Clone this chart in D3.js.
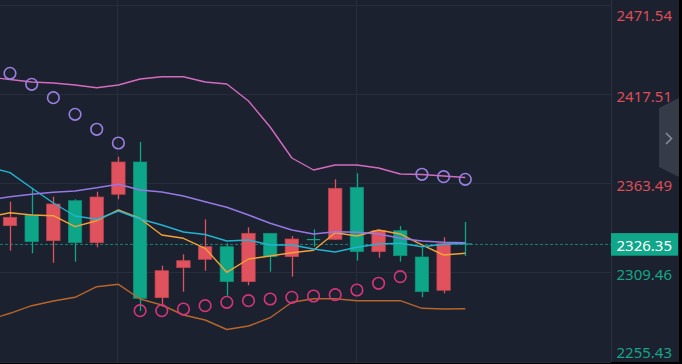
<!DOCTYPE html>
<html>
<head>
<meta charset="utf-8">
<script src="https://cdn.jsdelivr.net/npm/d3@7"></script>
<style>
  html, body { margin: 0; padding: 0; background: #000; }
  svg { display: block; }
</style>
</head>
<body>
<div id="chart"></div>
<script>
// candle data (22 bars, left to right)
var opens  = [2337.69, 2344.17, 2328.60, 2352.83, 2327.39, 2356.70, 2376.27, 2294.08, 2312.25, 2317.33, 2324.97,
              2303.77, 2333.08, 2318.91, 2329.63, 2329.45, 2360.94, 2321.94, 2334.66, 2318.73, 2298.56, 2326.96];
var highs  = [2352.22, 2360.70, 2355.25, 2353.68, 2358.28, 2379.48, 2388.38, 2313.46, 2320.36, 2341.56, 2327.03,
              2336.72, 2333.08, 2331.45, 2335.51, 2365.79, 2369.42, 2335.08, 2337.50, 2324.48, 2330.66, 2339.93];
var lows   = [2322.54, 2320.97, 2315.27, 2315.88, 2324.60, 2353.68, 2286.02, 2288.62, 2297.71, 2310.43, 2295.29,
              2301.59, 2309.82, 2306.79, 2324.97, 2329.02, 2316.49, 2318.30, 2315.88, 2294.32, 2296.74, 2319.33];
var closes = [2342.77, 2327.99, 2350.83, 2327.39, 2355.07, 2376.27, 2293.71, 2310.43, 2316.49, 2324.97, 2303.77,
              2333.08, 2318.91, 2329.63, 2329.27, 2360.34, 2321.94, 2334.66, 2319.51, 2297.71, 2326.78, 2326.35];

// indicator lines: first value belongs to the bar just left of the view
var bollUpper = [2427.75, 2426.24, 2424.72, 2424.12, 2422.91, 2421.27, 2422.91, 2426.54, 2427.93, 2427.93, 2424.72, 2423.51,
                 2413.22, 2397.47, 2378.69, 2371.42, 2374.45, 2374.45, 2372.63, 2369.00, 2368.70, 2367.79, 2366.88];
var bollMid   = [2353.25, 2355.25, 2356.70, 2357.92, 2358.70, 2360.70, 2362.76, 2359.31, 2358.10, 2355.67, 2352.22, 2348.83,
                 2344.17, 2339.14, 2335.08, 2332.66, 2334.05, 2333.69, 2332.66, 2330.05, 2328.42, 2327.63, 2327.39];
var bollLower = [2280.57, 2284.63, 2289.23, 2292.08, 2294.32, 2300.74, 2302.19, 2293.29, 2289.65, 2283.60, 2280.57, 2274.81,
                 2276.93, 2281.96, 2291.29, 2293.47, 2293.47, 2292.26, 2292.26, 2292.26, 2287.65, 2287.23, 2287.41];
var maCyan    = [2373.24, 2369.79, 2360.52, 2351.43, 2343.56, 2341.56, 2346.59, 2341.74, 2338.11, 2333.87, 2332.36, 2328.42,
                 2329.02, 2326.00, 2326.00, 2323.57, 2321.76, 2324.60, 2326.60, 2327.03, 2324.97, 2326.42, 2327.03];
var maOrange  = [2342.96, 2345.56, 2344.17, 2343.74, 2337.08, 2340.71, 2347.20, 2342.05, 2332.05, 2330.05, 2324.00, 2309.46,
                 2317.52, 2319.33, 2321.33, 2322.79, 2333.45, 2331.45, 2335.08, 2332.66, 2326.00, 2319.94, 2320.97];

// parabolic SAR, one per bar
var sar = [2429.99, 2423.33, 2415.22, 2405.16, 2396.08, 2387.78, 2286.20, 2286.20, 2287.23, 2289.23, 2291.29,
           2292.26, 2293.29, 2294.32, 2295.11, 2295.89, 2298.74, 2302.80, 2306.79, 2368.82, 2367.36, 2365.79];

var priceTicks = [2471.54, 2417.51, 2363.49, 2309.46, 2255.43];
var lastPrice = 2326.35;
var timeGridIdx = [5, 16];

var width = 682, height = 364,
    chartW = 679, chartH = 362,
    axisX = 611;

var red = "#e0525d", green = "#0ea689";
var font = "'Noto Sans', 'Liberation Sans', sans-serif";

var svg = d3.select("#chart").append("svg")
  .attr("width", width)
  .attr("height", height);

svg.append("rect")
  .attr("width", chartW).attr("height", chartH)
  .attr("fill", "#1b212e");

var x = d3.scaleLinear().domain([0, 21]).range([10, 465.3]);
var y = d3.scaleLinear().domain([2255.43, 2471.54]).range([361.5, 4.7]);

var plot = svg.append("g");
plot.append("clipPath").attr("id", "clip")
  .append("rect").attr("width", axisX).attr("height", chartH);

// grid
plot.selectAll(".hgrid")
  .data(priceTicks)
  .enter().append("line")
  .attr("x1", 0).attr("x2", axisX)
  .attr("y1", function(d) { return Math.round(y(d)) + 0.5; })
  .attr("y2", function(d) { return Math.round(y(d)) + 0.5; })
  .attr("stroke", "#262e3b").attr("stroke-width", 1);

plot.selectAll(".vgrid")
  .data(timeGridIdx)
  .enter().append("line")
  .attr("x1", function(d) { return Math.round(x(d)) - 0.5; })
  .attr("x2", function(d) { return Math.round(x(d)) - 0.5; })
  .attr("y1", 0).attr("y2", chartH)
  .attr("stroke", "#262e3b").attr("stroke-width", 1);

// axis separator
svg.append("line")
  .attr("x1", axisX + 0.5).attr("x2", axisX + 0.5)
  .attr("y1", 0).attr("y2", chartH)
  .attr("stroke", "#2a3140");

// last price dashed line
plot.append("line")
  .attr("x1", 0).attr("x2", axisX)
  .attr("y1", y(lastPrice)).attr("y2", y(lastPrice))
  .attr("stroke", "#168373").attr("stroke-width", 1)
  .attr("stroke-dasharray", "3,2");

var g = plot.append("g").attr("clip-path", "url(#clip)");

// lines
var lineIdx = d3.range(-1, 22);
function drawLine(values, color, w) {
  var line = d3.line()
    .x(function(d, i) { return x(lineIdx[i]); })
    .y(function(d) { return y(d); });
  g.append("path")
    .datum(values)
    .attr("d", line)
    .attr("fill", "none")
    .attr("stroke", color)
    .attr("stroke-width", w)
    .attr("stroke-linejoin", "round");
}

// candles
var candles = d3.range(22).map(function(i) {
  return { i: i, o: opens[i], h: highs[i], l: lows[i], c: closes[i] };
});
var bodyW = 13.4;

var cg = g.selectAll(".candle")
  .data(candles)
  .enter().append("g");

cg.append("line")
  .attr("x1", function(d) { return Math.round(x(d.i)) + 0.5; })
  .attr("x2", function(d) { return Math.round(x(d.i)) + 0.5; })
  .attr("y1", function(d) { return y(d.h); })
  .attr("y2", function(d) { return y(d.l); })
  .attr("stroke", function(d) { return d.c >= d.o ? red : green; })
  .attr("stroke-width", 1.3);

cg.append("rect")
  .attr("x", function(d) { return x(d.i) - bodyW / 2; })
  .attr("width", bodyW)
  .attr("y", function(d) { return y(Math.max(d.o, d.c)); })
  .attr("height", function(d) { return Math.max(1.2, Math.abs(y(d.o) - y(d.c))); })
  .attr("fill", function(d) { return d.c >= d.o ? red : green; })
  .attr("stroke", function(d) { return d.c >= d.o ? "#c0454f" : "#0c9078"; })
  .attr("stroke-width", function(d) { return Math.abs(y(d.o) - y(d.c)) > 3 ? 0.7 : 0; });

drawLine(bollLower, "#b8652c", 1.4);
drawLine(maOrange, "#f2a236", 1.4);
drawLine(maCyan, "#22b4d3", 1.4);
drawLine(bollMid, "#9678e4", 1.6);
drawLine(bollUpper, "#d56bbf", 1.4);

// SAR circles
g.selectAll(".sar")
  .data(sar)
  .enter().append("circle")
  .attr("cx", function(d, i) { return x(i); })
  .attr("cy", function(d) { return y(d); })
  .attr("r", 5.8)
  .attr("fill", "none")
  .attr("stroke", function(d, i) { return d > closes[i] ? "#9b80e2" : "#d8347e"; })
  .attr("stroke-width", 1.6);

// price axis labels
svg.selectAll(".plabel")
  .data(priceTicks)
  .enter().append("text")
  .attr("x", 616.5)
  .attr("y", function(d) { return Math.max(14.5, Math.min(351.5, y(d) + 2)); })
  .attr("dominant-baseline", "central")
  .attr("font-family", font)
  .attr("font-size", "15px")
  .attr("fill", function(d) { return d > lastPrice ? "#de4d5a" : "#17a488"; })
  .text(function(d) { return d.toFixed(2); });

// last price box
svg.append("rect")
  .attr("x", axisX).attr("y", y(lastPrice) - 11.3)
  .attr("width", 678 - axisX).attr("height", 22.6)
  .attr("fill", "#0fa68a");
svg.append("text")
  .attr("x", 616.5)
  .attr("y", y(lastPrice) + 0.5)
  .attr("dominant-baseline", "central")
  .attr("font-family", font)
  .attr("font-size", "15px")
  .attr("fill", "#ffffff")
  .text(lastPrice.toFixed(2));

// side collapse tab
svg.append("path")
  .attr("d", "M659,108 L679,98 L679,177 L659,167 Z")
  .attr("fill", "#363b48");
svg.append("path")
  .attr("d", "M666,133 L671.5,138.5 L666,144")
  .attr("fill", "none")
  .attr("stroke", "#868b96")
  .attr("stroke-width", 1.6);
</script>
</body>
</html>
